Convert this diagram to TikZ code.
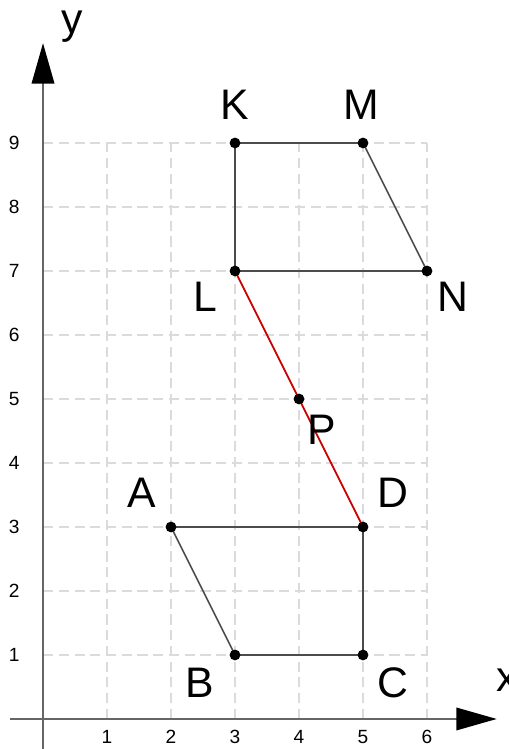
\documentclass[tikz,border=0pt]{standalone}
\usepackage{fontspec}
\setmainfont{Liberation Sans}
\usetikzlibrary{arrows.meta}
\begin{document}
\begin{tikzpicture}[
  gridline/.style={draw=black!14, line width=0.7pt, dash pattern=on 4.5pt off 2.5pt},
  axisline/.style={draw=black!60, line width=0.9pt, -{Triangle[length=18pt,width=10pt,color=black]}},
  poly/.style={draw=black!70, line width=0.7pt},
  seg/.style={draw=red!80!black, line width=0.8pt},
  dot/.style={circle, fill=black, inner sep=0pt, minimum size=4.8pt},
  ptlabel/.style={font=\fontsize{19}{19}\selectfont},
  ticklabel/.style={font=\fontsize{8.5}{9}\selectfont},
]
\useasboundingbox (-0.672,-0.469) rectangle (7.266,11.234);
% grid
\foreach \i in {1,...,6} \draw[gridline] (\i,0) -- (\i,9);
\foreach \j in {1,...,9} \draw[gridline] (0,\j) -- (6,\j);
% axes
\coordinate (xs) at (-0.52,0);
\coordinate (xe) at (7.09,0);
\coordinate (ys) at (0,-0.5);
\coordinate (ye) at (0,10.56);
\draw[axisline] (xs) -- (xe);
\draw[axisline] (ys) -- (ye);
\node[ptlabel] (xl) at (7.25,0.61) {x};
\node[ptlabel] (yl) at (0.45,10.82) {y};
\foreach \i in {1,...,6} \node[ticklabel] (tx\i) at (\i,-0.28) {\i};
\foreach \j in {1,...,9} \node[ticklabel] (ty\j) at (-0.45,\j) {\j};
% points
\coordinate (A) at (2,3);
\coordinate (B) at (3,1);
\coordinate (C) at (5,1);
\coordinate (D) at (5,3);
\coordinate (K) at (3,9);
\coordinate (L) at (3,7);
\coordinate (M) at (5,9);
\coordinate (N) at (6,7);
\coordinate (P) at (4,5);
\draw[poly] (A) -- (D) -- (C) -- (B) -- cycle;
\draw[poly] (K) -- (M) -- (N) -- (L) -- cycle;
\draw[seg] (L) -- (D);
\foreach \p in {A,B,C,D,K,L,M,N,P} \node[dot] (d\p) at (\p) {};
% labels
\node[ptlabel] (lA) at (1.55,3.53) {A};
\node[ptlabel] (lB) at (2.45,0.56) {B};
\node[ptlabel] (lC) at (5.47,0.56) {C};
\node[ptlabel] (lD) at (5.47,3.53) {D};
\node[ptlabel] (lK) at (3.0,9.59) {K};
\node[ptlabel] (lL) at (2.53,6.59) {L};
\node[ptlabel] (lM) at (4.98,9.59) {M};
\node[ptlabel] (lN) at (6.41,6.59) {N};
\node[ptlabel] (lP) at (4.36,4.52) {P};
\end{tikzpicture}
\end{document}
